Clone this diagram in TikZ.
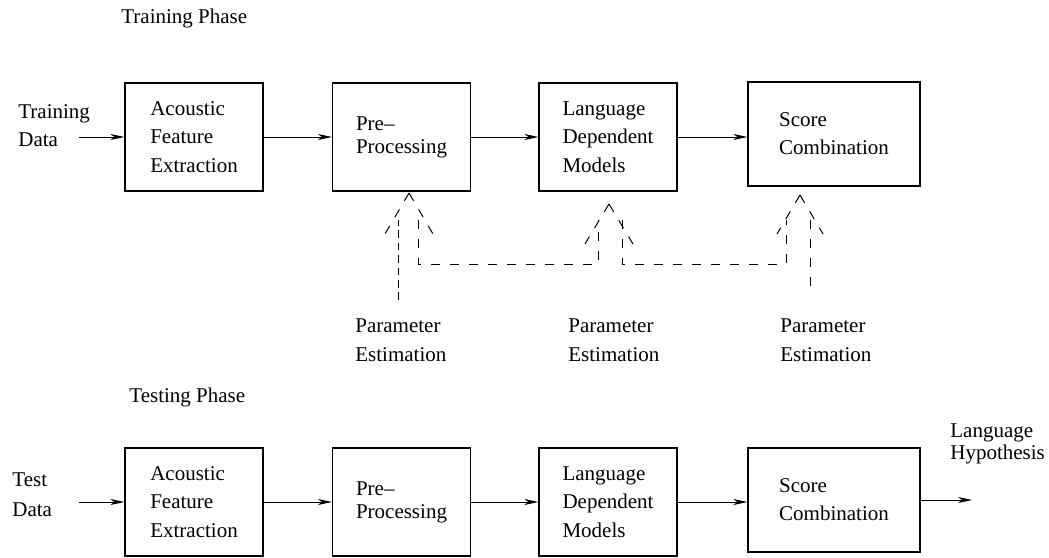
\documentclass[tikz,border=0pt]{standalone}
\usepackage{fontspec}
\setmainfont{Liberation Serif}
\usetikzlibrary{arrows.meta}
\begin{document}
\begin{tikzpicture}[x=0.5pt,y=-0.5pt,
  txt/.style={font=\fontsize{10.5}{14}\selectfont, align=left, inner sep=0pt, anchor=west},
  blk/.style={draw, line width=0.6pt, align=left, inner sep=0pt,
    font=\fontsize{10.5}{14.25}\selectfont, minimum width=69pt, minimum height=54pt},
  twoline/.style={font=\fontsize{10.5}{11.5}\selectfont},
  wide/.style={blk, minimum width=86pt, minimum height=52pt},
  flow/.style={-{Stealth[length=7pt,width=3pt,inset=2pt]}, line width=0.5pt},
  fb/.style={line width=0.5pt, dash pattern=on 4.5pt off 5pt},
  fbfine/.style={line width=0.5pt, dash pattern=on 3.8pt off 2.4pt}
]
\useasboundingbox (0,0) rectangle (1049,557);

% ---------------- training phase ----------------
\node[txt] (trphase) at (121,18) {Training Phase};
\node[txt] (trdata) at (18,126) {Training\\Data};
\coordinate (trin) at (79,137);

\node[blk] (afe1) at (194,137) {Acoustic\\Feature\\Extraction};
\node[blk, twoline] (pre1) at (401.5,137) {Pre–\\Processing};
\node[blk] (ldm1) at (608,137) {Language\\Dependent\\Models};
\node[wide, font=\fontsize{10.5}{14}\selectfont] (sc1) at (834,134) {Score\\Combination};

\draw[flow] (trin) -- (afe1.west);
\draw[flow] (afe1) -- (pre1);
\draw[flow] (pre1) -- (ldm1);
\draw[flow] (ldm1.east) -- (ldm1.east -| sc1.west);

% parameter estimation feeds
\node[txt, font=\fontsize{10.5}{14.5}\selectfont] (pe1) at (355,340) {Parameter\\Estimation};
\node[txt, font=\fontsize{10.5}{14.5}\selectfont] (pe2) at (568,340) {Parameter\\Estimation};
\node[txt, font=\fontsize{10.5}{14.5}\selectfont] (pe3) at (780,340) {Parameter\\Estimation};

% open dashed heads under the blocks
\coordinate (tipA) at (409,193);
\coordinate (armAl) at (385,234);
\coordinate (armAr) at (433,234);
\coordinate (tipB) at (609,204);
\coordinate (armBl) at (585,244);
\coordinate (armBr) at (633,244);
\coordinate (tipC) at (800,195);
\coordinate (armCl) at (777,234);
\coordinate (armCr) at (823,234);
\foreach \t/\a in {tipA/armAl,tipA/armAr,tipB/armBl,tipB/armBr,tipC/armCl,tipC/armCr}
  \draw[fb] (\t) -- (\a);

% shafts
\coordinate (sA1) at (398,300);
\coordinate (eA1) at (398,220);
\coordinate (eA2) at (418,220);
\coordinate (eB1) at (598,220);
\coordinate (eB2) at (622,220);
\coordinate (eC1) at (786,220);
\coordinate (eC2) at (810,220);
\coordinate (sC2) at (810,286);

\draw[fbfine] (sA1) -- (eA1);
\draw[fb] (eA2) -- ++(0,44) -| (eB1);
\draw[fb] (eB2) -- ++(0,44) -| (eC1);
\draw[fb] (sC2) -- (eC2);

% ---------------- testing phase ----------------
\node[txt] (tsphase) at (129,397) {Testing Phase};
\node[txt, font=\fontsize{10.5}{15}\selectfont] (tsdata) at (12,495) {Test\\Data};
\coordinate (tsin) at (79,502);

\node[blk] (afe2) at (194,502) {Acoustic\\Feature\\Extraction};
\node[blk, twoline] (pre2) at (401.5,502) {Pre–\\Processing};
\node[blk] (ldm2) at (608,502) {Language\\Dependent\\Models};
\node[wide, font=\fontsize{10.5}{14}\selectfont] (sc2) at (834,500) {Score\\Combination};

\node[txt, font=\fontsize{10.5}{11}\selectfont] (hyp) at (950,444) {Language\\Hypothesis};
\coordinate (hypout) at (972,500);

\draw[flow] (tsin) -- (afe2.west);
\draw[flow] (afe2) -- (pre2);
\draw[flow] (pre2) -- (ldm2);
\draw[flow] (ldm2.east) -- (ldm2.east -| sc2.west);
\draw[flow] (sc2.east) -- (hypout);
\end{tikzpicture}
\end{document}
